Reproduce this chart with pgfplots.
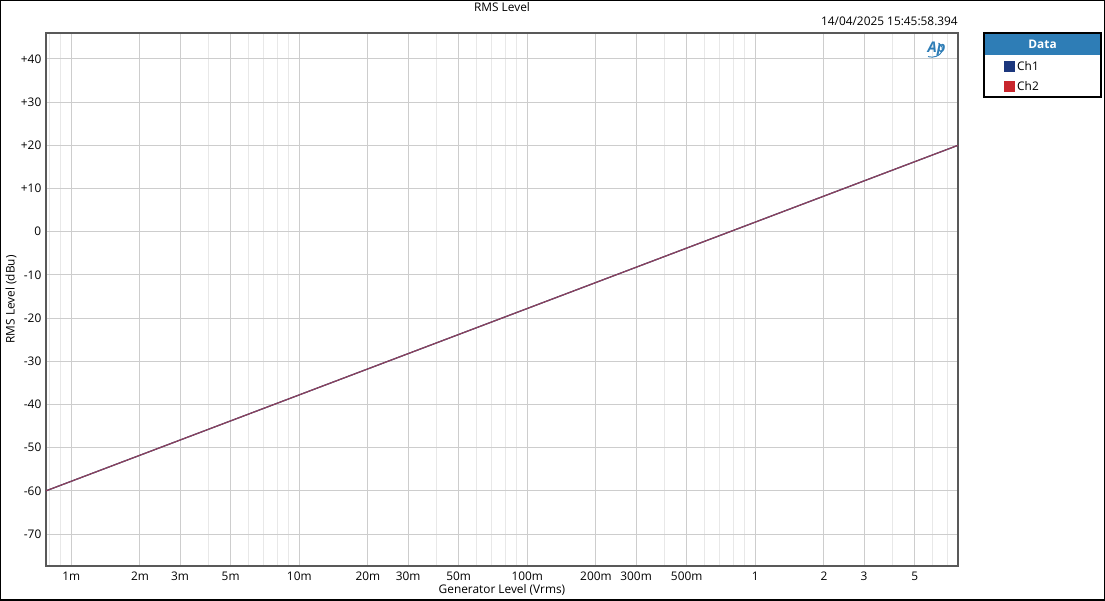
\documentclass[border=0pt]{standalone}
\usepackage{pgfplots}
\pgfplotsset{compat=1.18}
\usepackage{fontspec}
\setmainfont{Open Sans}
\definecolor{ch1}{RGB}{28,55,125}
\definecolor{ch2}{RGB}{200,38,45}
\definecolor{mix}{RGB}{142,66,90}
\definecolor{hdr}{RGB}{46,125,182}
\definecolor{majgrid}{RGB}{205,205,205}
\definecolor{mingrid}{RGB}{232,232,232}
\begin{document}
\begin{tikzpicture}[font=\fontsize{8.9}{10.5}\selectfont]
\useasboundingbox (0,0) rectangle (828.75pt,450pt);
\begin{axis}[
  at={(34.5pt,25.5pt)}, anchor=south west,
  width=684pt, height=399.75pt, scale only axis,
  xmode=log,
  xmin=0.0007746, xmax=7.746,
  ymin=-77.4, ymax=46,
  xtick={0.001,0.002,0.003,0.005,0.01,0.02,0.03,0.05,0.1,0.2,0.3,0.5,1,2,3,5},
  xticklabels={1m,2m,3m,5m,10m,20m,30m,50m,100m,200m,300m,500m,1,2,3,5},
  minor xtick={0.0008,0.0009,0.004,0.006,0.007,0.008,0.009,0.04,0.06,0.07,0.08,0.09,0.4,0.6,0.7,0.8,0.9,4,6,7},
  ytick={-70,-60,-50,-40,-30,-20,-10,0,10,20,30,40},
  yticklabels={-70,-60,-50,-40,-30,-20,-10,0,+10,+20,+30,+40},
  major tick length=0pt, minor tick length=0pt,
  grid=both,
  major grid style={majgrid, line width=0.75pt},
  minor grid style={mingrid, line width=0.75pt},
  axis line style={black!65, line width=0.9pt},
  xticklabel style={yshift=-1pt},
  xlabel={Generator Level (Vrms)},
  ylabel={RMS Level (dBu)},
  every axis x label/.style={at={(axis description cs:0.5,-0.045)}, anchor=center},
  every axis y label/.style={at={(axis description cs:-0.0384,0.5)}, rotate=90, anchor=center},
  legend image code/.code={\fill[#1] (0pt,-3.8pt) rectangle (8.25pt,4.45pt);},
  legend style={at={(axis description cs:1.0504,0.9494)}, anchor=north west, draw=none, fill=none,
    inner xsep=0pt, inner ysep=0pt, row sep=5pt,
    nodes={inner xsep=1.5pt, inner ysep=1pt}},
  legend cell align=left,
  clip=false,
]
\addplot[ch1, line width=0.9pt, forget plot] coordinates {
 (0.0007746,-60) (0.001,-57.78) (0.002,-51.76) (0.005,-43.80) (0.01,-37.78) (0.02,-31.76)
 (0.05,-23.80) (0.1,-17.78) (0.2,-11.76) (0.5,-3.80) (1,2.22) (2,8.24) (5,16.20) (7.746,20)};
\addplot[mix, line width=0.9pt, forget plot] coordinates {
 (0.0007746,-60) (0.001,-57.78) (0.002,-51.76) (0.005,-43.80) (0.01,-37.78) (0.02,-31.76)
 (0.05,-23.80) (0.1,-17.78) (0.2,-11.76) (0.5,-3.80) (1,2.22) (2,8.24) (5,16.20) (7.746,20)};
\addlegendimage{fill=ch1, draw=none}
\addlegendentry{Ch1}
\addlegendimage{fill=ch2, draw=none}
\addlegendentry{Ch2}
\end{axis}
% title and timestamp
\node[anchor=center] at (376.5pt,445pt) {RMS Level};
\node[anchor=east, inner sep=0pt] at (718.5pt,434.25pt) {14/04/2025 15:45:58.394};
% AP logo
\node[anchor=center, text=hdr, inner sep=0pt] at (702.5pt,413.25pt) {\fontsize{11}{12}\selectfont\bfseries\itshape Ap};
\draw[hdr, line width=0.7pt] (696pt,407.5pt) arc[start angle=250, end angle=410, x radius=8pt, y radius=6pt];
% legend frame
\fill[hdr] (738pt,425.25pt) rectangle (825.75pt,408.75pt);
\node[text=white, font=\fontsize{8.9}{10.5}\selectfont\bfseries] at (781.9pt,417pt) {Data};
\draw[black, line width=0.9pt] (738pt,425.25pt) rectangle (825.75pt,377.25pt);
% outer border
\draw[black, line width=1.5pt] (0,0) rectangle (828.75pt,450pt);
\end{tikzpicture}
\end{document}
